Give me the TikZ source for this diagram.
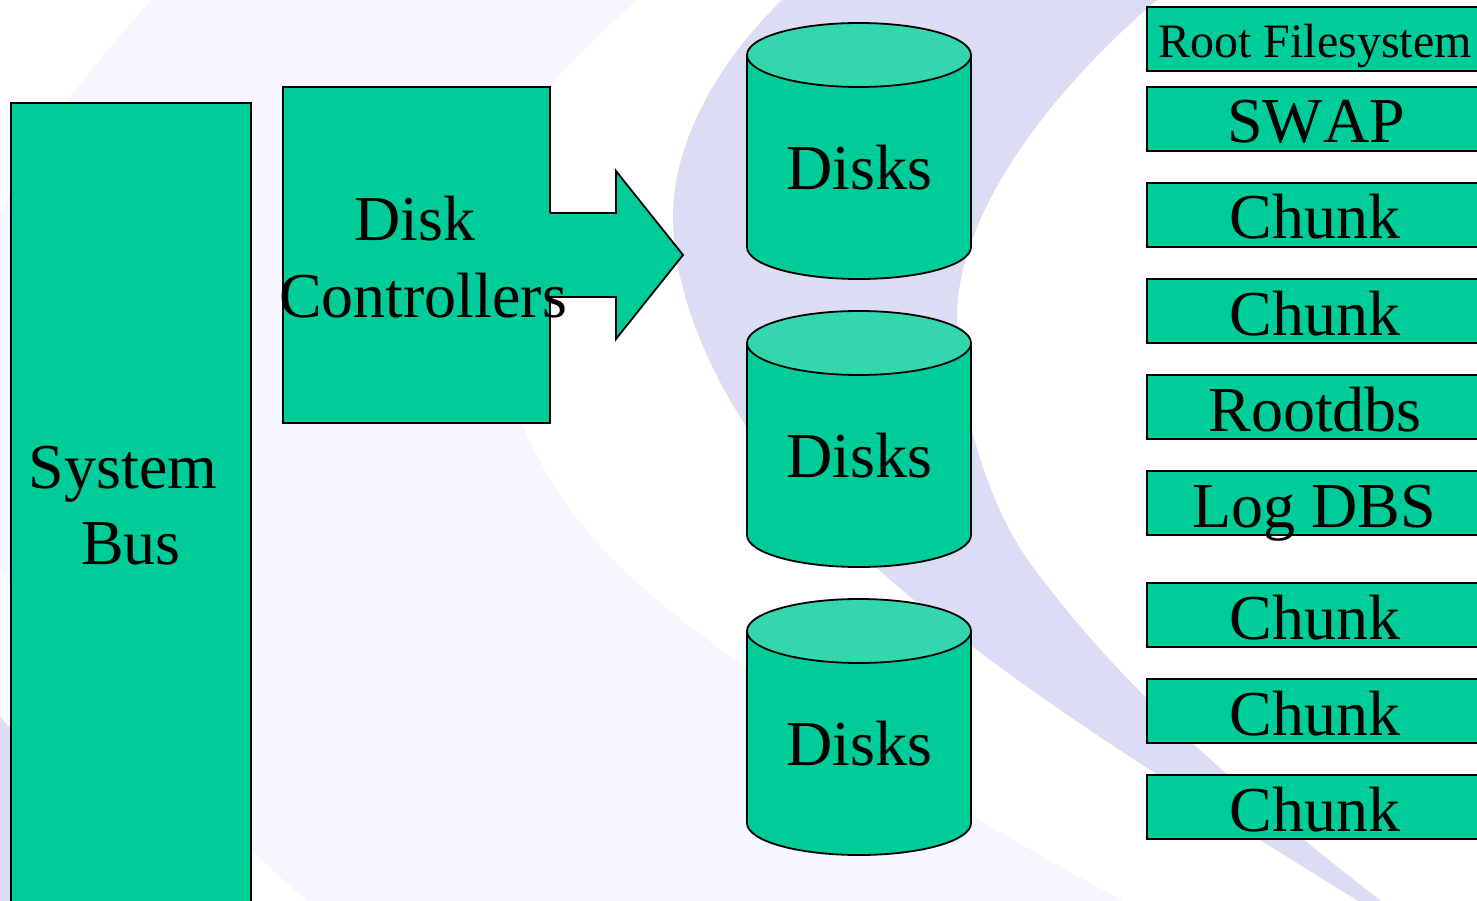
\documentclass[tikz,border=0pt]{standalone}
\usepackage{fontspec}
\setmainfont[Kerning=Off]{Liberation Serif}
\definecolor{teal1}{HTML}{00CC99}
\definecolor{teal2}{HTML}{33D6AD}
\definecolor{pale}{HTML}{F5F6FF}
\definecolor{lav}{HTML}{DCDCF4}
\tikzset{
  boxshape/.style={draw=black,fill=teal1,line width=2pt,rectangle,inner sep=0pt,outer sep=0pt,anchor=north west},
  bigtext/.style={font=\fontsize{64}{64}\selectfont,anchor=base,inner sep=0pt,text=black},
  smalltext/.style={font=\fontsize{48}{48}\selectfont,anchor=base,inner sep=0pt,text=black},
  chunkbox/.style={boxshape,minimum width=336pt,minimum height=64pt},
  cylline/.style={draw=black,line width=1.8pt},
}
\begin{document}
\begin{tikzpicture}[x=1pt,y=-1pt]
\useasboundingbox (0,0) rectangle (1477,901);
\clip (0,0) rectangle (1477,901);
\fill[white] (0,0) rectangle (1477,901);
% pale swoosh
\fill[pale] (151,0) .. controls (90,70) and (30,140) .. (0,217) -- (0,567)
  .. controls (40,650) and (160,770) .. (307,901) -- (1123,901)
  .. controls (1000,835) and (820,730) .. (660,603)
  .. controls (600,550) and (560,510) .. (521,423)
  .. controls (480,300) and (480,180) .. (550,87)
  .. controls (575,55) and (610,25) .. (637,0) -- cycle;
% lavender swoosh
\fill[lav] (782,0) .. controls (720,60) and (673,140) .. (673,217)
  .. controls (673,330) and (760,480) .. (876,567)
  .. controls (1000,680) and (1180,790) .. (1358,901) -- (1381,901)
  .. controls (1270,815) and (1130,700) .. (1030,563)
  .. controls (985,500) and (957,400) .. (957,317)
  .. controls (957,220) and (1040,100) .. (1157,0) -- cycle;
\fill[lav] (0,717) -- (9,727) -- (30,770) -- (30,901) -- (0,901) -- cycle;

% system bus
\node[boxshape,minimum width=240pt,minimum height=820pt] (bus) at (11,103) {};
\node[bigtext] (bust1) at (123,488.5) {System};
\node[bigtext] (bust2) at (131,564) {Bus};

% controllers and arrow
\node[boxshape,minimum width=267pt,minimum height=336pt] (ctrl) at (283,87) {};
\fill[teal1] (548,213) -- (616,213) -- (616,171) -- (683,255) -- (616,339) -- (616,297) -- (548,297) -- cycle;
\draw[cylline,line join=miter] (550,213) -- (616,213) -- (616,171) -- (683,255) -- (616,339) -- (616,297) -- (550,297);
\node[bigtext] (ctrlt1) at (415,241) {Disk};
\node[bigtext] (ctrlt2) at (423,317) {Controllers};

% disks
\foreach \n/\d in {1/0,2/288,3/576}{
  \begin{scope}[yshift=-\d pt]
    \filldraw[cylline,fill=teal1] (747,55) -- (747,247) .. controls (747,264.7) and (797,279) .. (859,279) .. controls (921,279) and (971,264.7) .. (971,247) -- (971,55) -- cycle;
    \filldraw[cylline,fill=teal2] (859,55) ellipse [x radius=112pt,y radius=32pt];
    \node[bigtext] (disk\n) at (859,189.5) {Disks};
  \end{scope}
}

% right column
\node[chunkbox] (b1) at (1147,7) {};
\node[chunkbox] (b2) at (1147,87) {};
\node[chunkbox] (b3) at (1147,183) {};
\node[chunkbox] (b4) at (1147,279) {};
\node[chunkbox] (b5) at (1147,375) {};
\node[chunkbox] (b6) at (1147,471) {};
\node[chunkbox] (b7) at (1147,583) {};
\node[chunkbox] (b8) at (1147,679) {};
\node[chunkbox] (b9) at (1147,775) {};
\node[smalltext] (t1) at (1315,58) {Root Filesystem};
\node[bigtext] (t2) at (1316,143) {SWAP};
\node[bigtext] (t3) at (1315,239) {Chunk};
\node[bigtext] (t4) at (1315,335) {Chunk};
\node[bigtext] (t5) at (1315,431) {Rootdbs};
\node[bigtext] (t6) at (1314,527) {Log DBS};
\node[bigtext] (t7) at (1315,639) {Chunk};
\node[bigtext] (t8) at (1315,735) {Chunk};
\node[bigtext] (t9) at (1315,831) {Chunk};
\end{tikzpicture}
\end{document}
